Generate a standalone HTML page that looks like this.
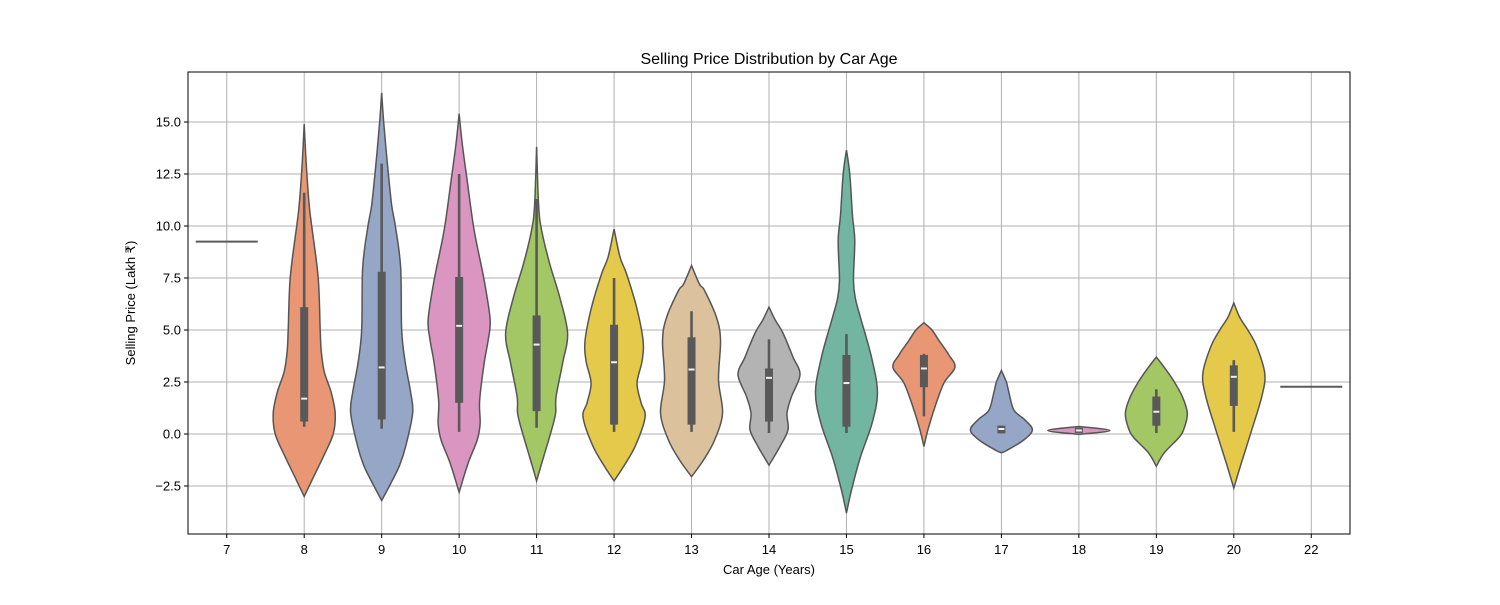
<!DOCTYPE html>
<html><head><meta charset="utf-8"><style>
html,body{margin:0;padding:0;background:#fff;}
svg text{font-family:"Liberation Sans","DejaVu Sans",sans-serif;}
</style></head><body>
<svg id="chart" width="1500" height="600" xmlns="http://www.w3.org/2000/svg">
<rect x="0" y="0" width="1500" height="600" fill="#fff"/>
<g id="grid"></g>
<g id="violins"></g>
<rect x="188" y="72" width="1162" height="462" fill="none" stroke="#000" stroke-width="1"/>
<g id="axes"></g>
<text x="769" y="64" font-size="16" text-anchor="middle">Selling Price Distribution by Car Age</text>
<text x="769" y="574" font-size="13" text-anchor="middle">Car Age (Years)</text>
<text x="135" y="303" font-size="13" text-anchor="middle" transform="rotate(-90 135 303)">Selling Price (Lakh ₹)</text>
</svg>
<script>
const categories = ["7","8","9","10","11","12","13","14","15","16","17","18","19","20","22"];
const yTicks = [-2.5,0,2.5,5,7.5,10,12.5,15];
const yTickLabels = ["−2.5","0.0","2.5","5.0","7.5","10.0","12.5","15.0"];
const singleValues = [9.25,null,null,null,null,null,null,null,null,null,null,null,null,null,2.27];
const profileValues = [
 null,
 [14.9,13,11,10,7.5,5,4,3,2,1,0,-1,-2,-3],
 [16.4,15,13,11,10,8,5,3.4,2,1,-0.6,-1.5,-2.2,-3.2],
 [15.4,14,12.2,9.8,7.4,5.5,4.5,3.4,1.6,0.5,-0.3,-1.4,-2.8],
 [13.8,11,9.8,8.2,6.6,4.85,3.4,1.8,1,0.2,-1.1,-2.25],
 [9.85,8.5,7.7,6.1,4.5,3.5,2.45,1.5,0.8,-0.6,-1.6,-2.25],
 [8.1,7.2,6.9,5.6,4.5,2.6,1.0,-0.3,-1.25,-2.05],
 [6.1,5.5,4.85,3.7,2.85,1.8,1.0,0.2,-0.6,-1.5],
 [13.65,12.5,10.5,9.3,7.4,6.5,5.6,3.7,2.0,0.5,-1.1,-2.7,-3.8],
 [5.35,5.0,4.5,3.8,3.2,2.45,1.3,0.2,-0.6],
 [3.05,2.5,2.0,1.15,0.7,0.2,-0.3,-0.8,-0.9],
 [0.36,0.17,-0.02],
 [3.7,3.2,2.6,1.8,1.0,0.3,-0.15,-0.9,-1.55],
 [6.3,5.6,5.0,4.2,2.9,1.8,0.2,-1.4,-2.6],
 null
];
const profileDensity = [
 null,
 [0,2,5,7.5,14,16,17,20,27,31,29,20,10,0],
 [0,2,5.7,10,13.7,19,20,23.7,29,31,24,18,11,0],
 [0,3,8,15,25,31,29,25,20.5,21,18,9,0],
 [0,2,5,13,23,31,26,19.5,19,15,7,0],
 [0,6,12.5,22.5,29,28,23,27,31,21,9,0],
 [0,8,13,25,29,27,31,23,12,0],
 [0,6,14,24,31,22.5,18,19,11,0],
 [0,3.3,6,8.3,7,9,14,25,31,25.5,14,5,0],
 [0,8,15,25,31,20,11,4,0],
 [0,5,7.5,12.5,23,31,22,5,0],
 [0,31,0],
 [0,8,16.7,26,31,28,23,8,0],
 [0,6,14,23,31,28,18,7.5,0],
 null
];
const q1 = [null,0.6,0.7,1.5,1.1,0.45,0.45,0.6,0.35,2.25,0.03,0.05,0.4,1.35,null];
const medians = [null,1.7,3.2,5.2,4.3,3.45,3.1,2.7,2.45,3.15,0.24,0.17,1.07,2.75,null];
const q3 = [null,6.1,7.8,7.55,5.7,5.25,4.65,3.15,3.8,3.8,0.4,0.3,1.8,3.3,null];
const whiskLo = [null,0.35,0.25,0.1,0.3,0.1,0.1,0.05,0.05,0.85,0.03,0.05,0.05,0.1,null];
const whiskHi = [null,11.6,13,12.5,11.3,7.5,5.9,4.55,4.8,3.85,0.4,0.3,2.15,3.55,null];
const fills = ["#72b6a1","#e99675","#95a6c6","#da95c0","#a3c764","#e5c94a","#dbc29d","#b3b3b3","#72b6a1","#e99675","#95a6c6","#da95c0","#a3c764","#e5c94a","#dbc29d"];

const NS="http://www.w3.org/2000/svg";
const X0=188,X1=1350,Y0=72,Y1=534;
const step=(X1-X0)/categories.length;
function xPos(i){return X0+step*(i+0.5);}
function yPos(v){return 434-(v-0)*20.8;}
const halfMax=step*0.4;
function mk(tag,attrs,parent){const e=document.createElementNS(NS,tag);for(const k in attrs)e.setAttribute(k,attrs[k]);parent.appendChild(e);return e;}
const grid=document.getElementById('grid'),axes=document.getElementById('axes'),vg=document.getElementById('violins');

yTicks.forEach((t,i)=>{
 const y=yPos(t);
 const gl=mk('line',{x1:X0,x2:X1,y1:y,y2:y,stroke:'#b0b0b0','stroke-width':1},grid);
 
 
 const tk=mk('line',{x1:X0-4,x2:X0,y1:y,y2:y,stroke:'#000'},axes);
 
 
 const tx=mk('text',{x:X0-7,y:y+4.5,'font-size':13,'text-anchor':'end'},axes);
 tx.textContent=yTickLabels[i];
 
 
});
categories.forEach((c,i)=>{
 const x=xPos(i);
 const gl=mk('line',{x1:x,x2:x,y1:Y0,y2:Y1,stroke:'#b0b0b0','stroke-width':1},grid);
 
 
 const tk=mk('line',{x1:x,x2:x,y1:Y1,y2:Y1+4,stroke:'#000'},axes);
 
 
 const tx=mk('text',{x:x,y:Y1+20,'font-size':13,'text-anchor':'middle'},axes);
 tx.textContent=c;
 
 
});

function spline(pts){
 let d='M'+pts[0][0]+','+pts[0][1];
 for(let i=0;i<pts.length-1;i++){
  const p0=pts[Math.max(i-1,0)],p1=pts[i],p2=pts[i+1],p3=pts[Math.min(i+2,pts.length-1)];
  const c1=[p1[0]+(p2[0]-p0[0])/6,p1[1]+(p2[1]-p0[1])/6];
  const c2=[p2[0]-(p3[0]-p1[0])/6,p2[1]-(p3[1]-p1[1])/6];
  d+=' C'+c1[0]+','+c1[1]+' '+c2[0]+','+c2[1]+' '+p2[0]+','+p2[1];
 }
 return d;
}

categories.forEach((c,i)=>{
 const cx=xPos(i);
 const g=mk('g',{},vg);
 
 
 if(singleValues[i]!==null){
  const y=yPos(singleValues[i]);
  const l=mk('line',{x1:cx-halfMax,x2:cx+halfMax,y1:y,y2:y,stroke:'#5a5a5a','stroke-width':2},g);
  
  
  return;
 }
 const vals=profileValues[i],dens=profileDensity[i];
 const m=Math.max(...dens);
 const right=vals.map((v,k)=>[cx+dens[k]/m*halfMax,yPos(v)]);
 const left=vals.map((v,k)=>[cx-dens[k]/m*halfMax,yPos(v)]).reverse();
 const d=spline(right)+' L'+spline(left).slice(1)+' Z';
 const p=mk('path',{d:d,fill:fills[i],stroke:'#555','stroke-width':1.5},g);
 
 
 const wl=mk('line',{x1:cx,x2:cx,y1:yPos(whiskHi[i]),y2:yPos(whiskLo[i]),stroke:'#595959','stroke-width':2.6},g);
 
 
 const bt=yPos(q3[i]),bb=yPos(q1[i]);
 const bx=mk('rect',{x:cx-4,y:bt,width:8,height:Math.max(bb-bt,1),fill:'#595959'},g);
 
 
 const md=mk('line',{x1:cx-3,x2:cx+3,y1:yPos(medians[i]),y2:yPos(medians[i]),stroke:'#f0f0f0','stroke-width':2},g);
 
 
});
</script>
</body></html>
